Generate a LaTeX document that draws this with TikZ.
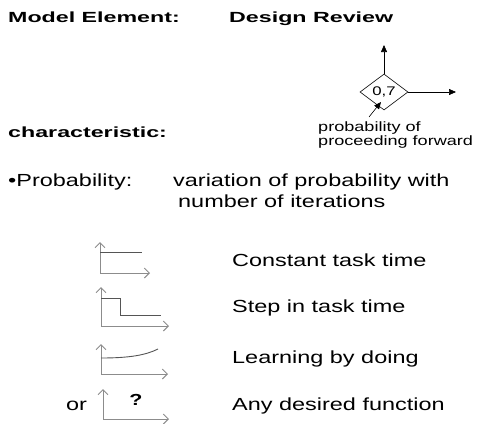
\documentclass[tikz,border=0pt]{standalone}
\usepackage{fontspec}
\setmainfont{Liberation Sans}[FakeStretch=1.34]
\newfontfamily\headfont{Liberation Sans}[FakeStretch=1.58]
\usetikzlibrary{shapes.geometric,arrows.meta,positioning}
\definecolor{axisgray}{HTML}{8C8C8C}
\definecolor{curvegray}{HTML}{555555}

\begin{document}
\begin{tikzpicture}[
  x=1pt, y=-1pt,
  txt/.style={anchor=base west, inner sep=0pt, font=\fontsize{17.5}{20}\selectfont},
  head/.style={txt, font=\headfont\fontsize{14.7}{17}\selectfont\bfseries},
  note/.style={txt, font=\fontsize{13.5}{15}\selectfont},
  gate/.style={diamond, draw, semithick, minimum width=48pt, minimum height=36pt,
    inner sep=0pt, font=\fontsize{12.5}{14}\selectfont},
  arr/.style={-{Triangle[length=7pt,width=6pt]}, semithick},
  axis/.style={axisgray, line width=1pt, -{Straight Barb[length=5pt,width=10pt]}},
  curve/.style={curvegray, line width=0.9pt},
]
  \useasboundingbox (0,0) rectangle (481,423);

  % header
  \node[head] (modellbl) at (8,22) {Model Element:};
  \node[head] (designlbl) at (229,22) {Design Review};

  % design review gate
  \node[gate] (review) at (384,92) {0,7};
  \coordinate (upend) at (384,45);
  \coordinate (fwdend) at (456,92);
  \draw[arr] (review.north) -- (upend);
  \draw[arr] (review.east) -- (fwdend);

  \node[note] (probnote) at (318,131) {probability of};
  \node[note] (fwdnote) at (318,145) {proceeding forward};
  \coordinate (pointfoot) at (369,117);
  \draw[arr] (pointfoot) -- ([shift={(-3,10)}]review.center);

  \node[head] (charlbl) at (8,137) {characteristic:};
  \node[txt] (problbl) at (8,186) {•Probability:};
  \node[txt] (varline) at (173,186) {variation of probability with};
  \node[txt] (iterline) at (178,207) {number of iterations};

  % constant
  \draw[axis] (100,273) -- (100,242);
  \draw[axis] (100,273) -- (150,273);
  \draw[curve] (100,252) -- (142,252);
  \node[txt] (constlbl) at (232,266) {Constant task time};

  % step
  \draw[axis] (101,326) -- (101,287);
  \draw[axis] (101,326) -- (169,326);
  \draw[curve] (101,298) -- (120,298) -- (120,315) -- (161,315);
  \node[txt] (steplbl) at (232,312) {Step in task time};

  % learning
  \draw[axis] (101,374) -- (101,344);
  \draw[axis] (101,374) -- (168,374);
  \draw[curve] (101,358) .. controls (130,358) and (146,355) .. (158,349);
  \node[txt] (learnlbl) at (232,363) {Learning by doing};

  % any function
  \draw[axis] (103,419) -- (103,389);
  \draw[axis] (103,419) -- (169,419);
  \node[font=\bfseries\fontsize{16}{18}\selectfont] (qmark) at (136,400) {?};
  \node[txt] (orlbl) at (66,410) {or};
  \node[txt] (anylbl) at (232,410) {Any desired function};
\end{tikzpicture}
\end{document}
